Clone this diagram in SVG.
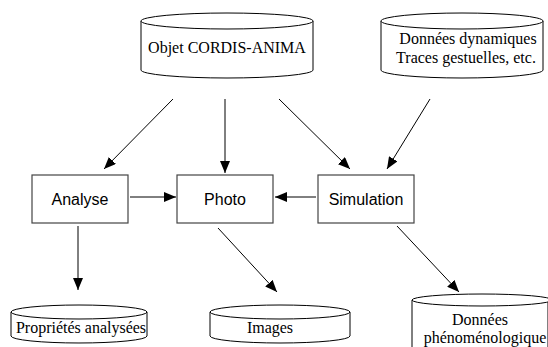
<svg xmlns="http://www.w3.org/2000/svg" width="548" height="347" viewBox="0 0 548 347">
<defs>
<marker id="ah" viewBox="0 0 12 10" refX="12" refY="5" markerWidth="12" markerHeight="10" markerUnits="userSpaceOnUse" orient="auto">
<path d="M0,0 L12,5 L0,10 Z" fill="#000"/>
</marker>
</defs>
<style>
.cyl{fill:#fff;stroke:#000;stroke-width:1}
.box{fill:#fff;stroke:#444;stroke-width:1.2}
.c line{stroke:#000;stroke-width:1;marker-end:url(#ah)}
</style>
<rect width="548" height="347" fill="#fff"/>
<g font-family="'Liberation Serif', 'Times New Roman', serif" font-size="16" text-anchor="middle" fill="#000">
<g id="objet">
<path class="cyl" d="M141,21 V70 A86,8 0 0,0 313,70 V21"/>
<ellipse class="cyl" cx="227" cy="21" rx="86" ry="8"/>
<text x="227" y="53">Objet CORDIS-ANIMA</text>
</g>
<g id="donnees-dyn">
<path class="cyl" d="M381,21 V70 A81,8 0 0,0 543,70 V21"/>
<ellipse class="cyl" cx="462" cy="21" rx="81" ry="8"/>
<text x="468" y="44">Données dynamiques</text>
<text x="466" y="63">Traces gestuelles, etc.</text>
</g>
<g id="proprietes">
<path class="cyl" d="M11,312 V336 A68,7 0 0,0 147,336 V312"/>
<ellipse class="cyl" cx="79" cy="312" rx="68" ry="7"/>
<text x="81" y="333">Propriétés analysées</text>
</g>
<g id="images">
<path class="cyl" d="M210,312 V336 A70,7 0 0,0 350,336 V312"/>
<ellipse class="cyl" cx="280" cy="312" rx="70" ry="7"/>
<text x="270" y="333">Images</text>
</g>
<g id="donnees-phen">
<path class="cyl" d="M412,300 V350 M548,300 V350"/>
<ellipse class="cyl" cx="482" cy="300" rx="70" ry="6"/>
<text x="480" y="325">Données</text>
<text x="485" y="343">phénoménologique</text>
</g>
</g>
<g font-family="'Liberation Sans', Arial, sans-serif" font-size="16" text-anchor="middle" fill="#000">
<g id="analyse">
<rect class="box" x="32" y="175" width="96" height="48"/>
<text x="80" y="205">Analyse</text>
</g>
<g id="photo">
<rect class="box" x="177" y="175" width="96" height="48"/>
<text x="225" y="205">Photo</text>
</g>
<g id="simulation">
<rect class="box" x="318" y="175" width="96" height="48"/>
<text x="366" y="205">Simulation</text>
</g>
</g>
<g class="c" id="connectors">
<line x1="173" y1="99" x2="104" y2="169"/>
<line x1="225" y1="99" x2="225" y2="173"/>
<line x1="279" y1="99" x2="350" y2="169"/>
<line x1="430" y1="99" x2="387" y2="169"/>
<line x1="130" y1="197" x2="176" y2="197"/>
<line x1="316" y1="197" x2="275" y2="197"/>
<line x1="78" y1="226" x2="78" y2="290"/>
<line x1="218" y1="228" x2="277" y2="292"/>
<line x1="397" y1="226" x2="459" y2="292"/>
</g>
</svg>
